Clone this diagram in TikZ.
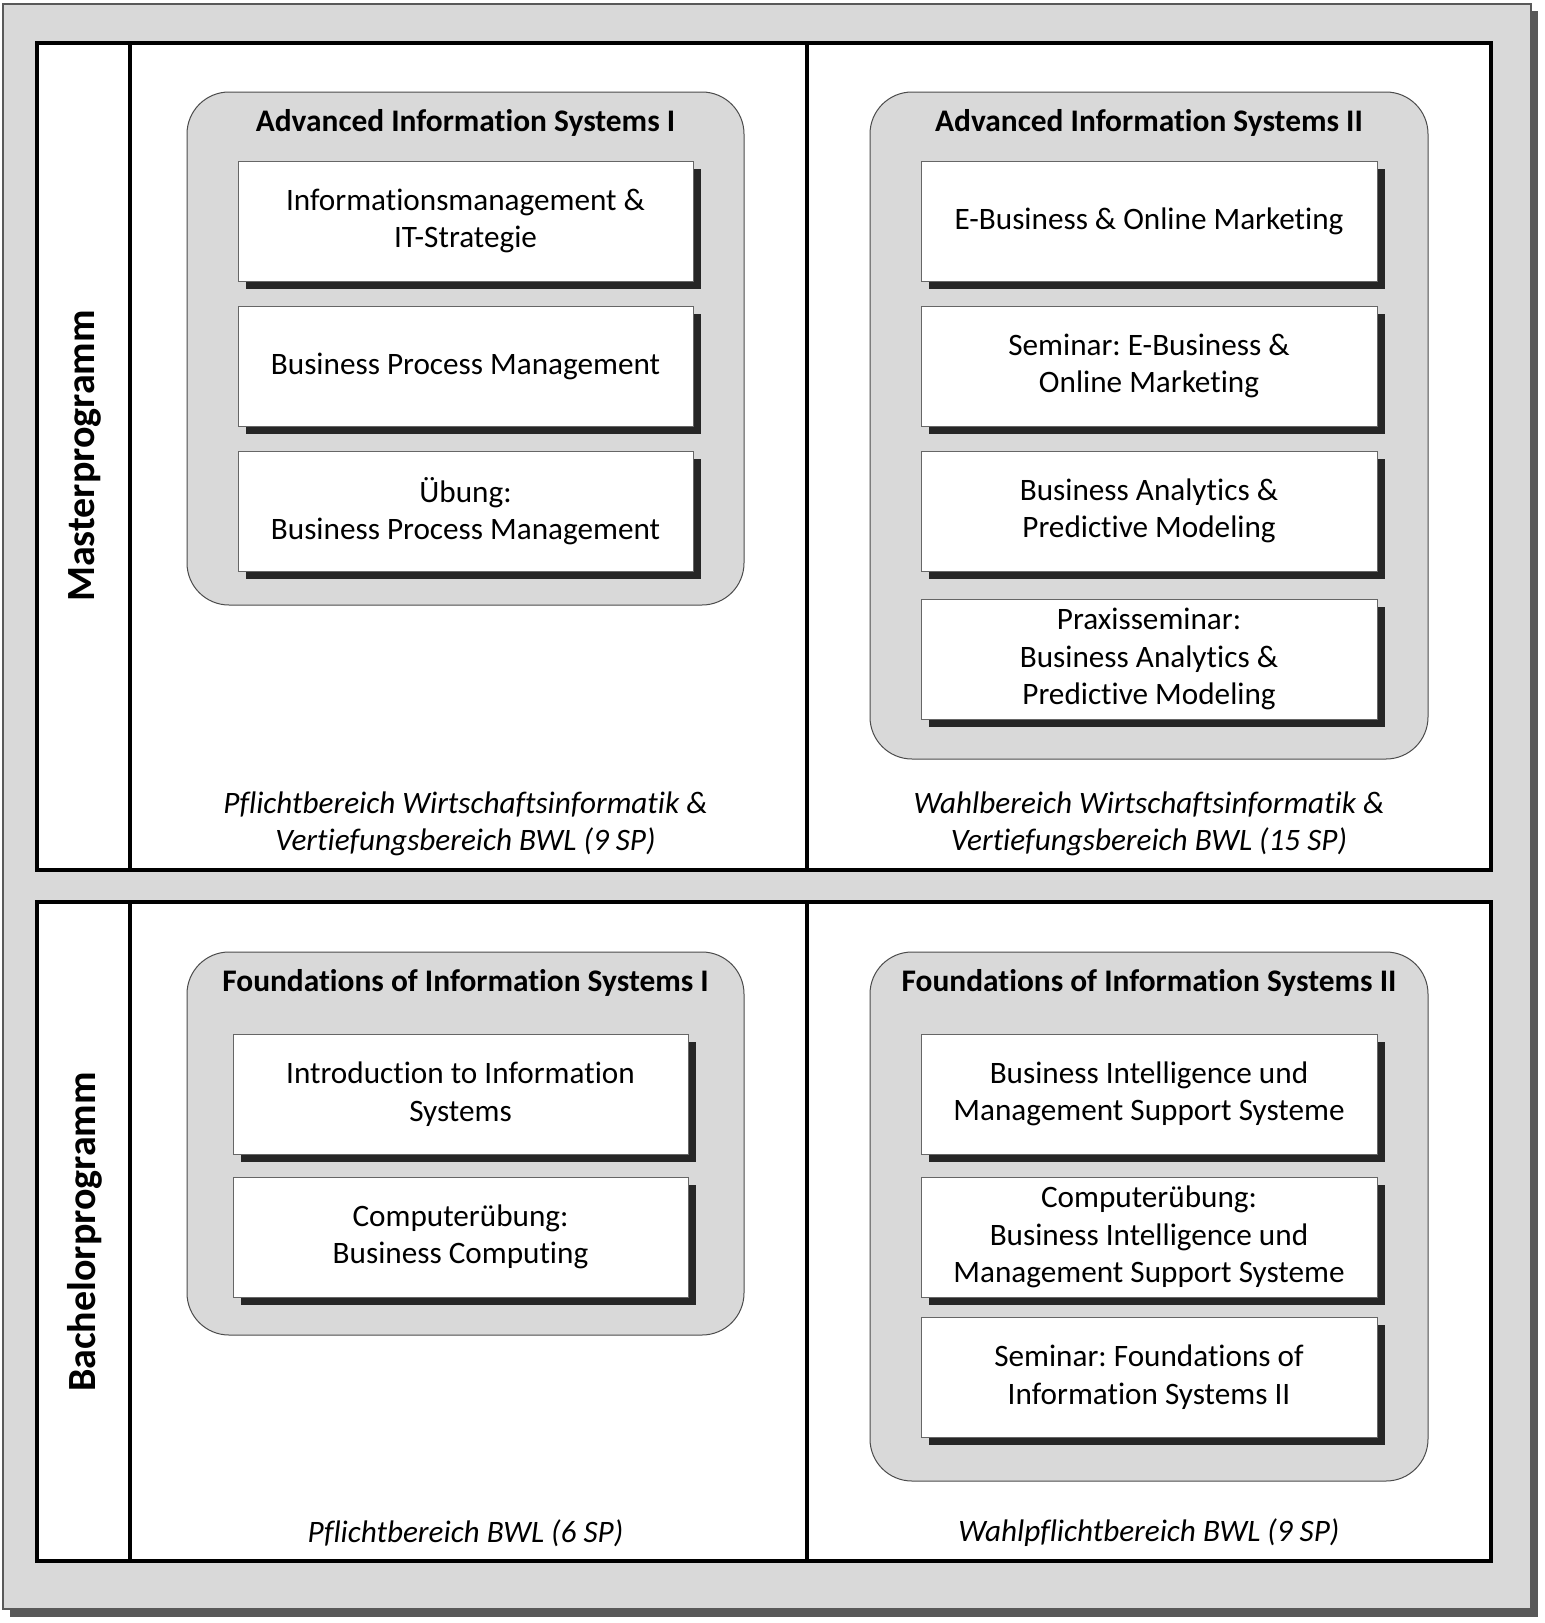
\documentclass[tikz,border=0pt]{standalone}
\usepackage{fontspec}
\setmainfont{Carlito}[Ligatures=NoCommon]
\frenchspacing
\usetikzlibrary{shadows}
\definecolor{panel}{HTML}{D9D9D9}
\definecolor{outshadow}{HTML}{595959}
\definecolor{boxshadow}{HTML}{262626}
\begin{document}
\begin{tikzpicture}[x=0.5pt,y=-0.5pt,
  outerbg/.style={fill=panel,draw=gray!70!black,line width=0.6pt},
  frame/.style={draw=black,line width=2pt,fill=white},
  divider/.style={draw=black,line width=2pt},
  group/.style={draw=black!70,fill=panel,line width=0.5pt,rounded corners=21pt},
  inbox/.style={draw=black!60,fill=white,line width=0.5pt,align=center,
     minimum width=227.5pt,minimum height=60pt,inner sep=0pt,
     font=\fontsize{15.6}{18.7}\selectfont,
     drop shadow={shadow xshift=4pt,shadow yshift=-4pt,fill=boxshadow,opacity=1}},
  gtitle/.style={font=\fontsize{15.7}{18.7}\selectfont\bfseries,inner sep=0pt},
  area/.style={font=\fontsize{15.6}{18.7}\selectfont\itshape,align=center,inner sep=0pt},
  side/.style={font=\fontsize{20}{24}\selectfont\bfseries,rotate=90,inner sep=0pt}]
\useasboundingbox (0,0) rectangle (1544,1623);
% outer background with shadow
\fill[outshadow] (10,11) rectangle (1538,1617);
\path[outerbg] (3,4) rectangle (1531,1609);
% master frame
\path[frame] (37,43) rectangle (1491,870);
\draw[divider] (130,43) -- (130,870);
\draw[divider] (807,43) -- (807,870);
% bachelor frame
\path[frame] (37,902) rectangle (1491,1561);
\draw[divider] (130,902) -- (130,1561);
\draw[divider] (807,902) -- (807,1561);
% side labels
\node[side] (master) at (85,456) {Masterprogramm};
\node[side] (bachelor) at (85,1232) {Bachelorprogramm};
% groups
\path[group] (187,92) rectangle (744,605);
\path[group] (870,92) rectangle (1428,759);
\path[group] (187,952) rectangle (744,1335);
\path[group] (870,952) rectangle (1428,1481);
% titles
\node[gtitle] (t1) at (465.5,123) {Advanced Information Systems I};
\node[gtitle] (t2) at (1149,123) {Advanced Information Systems II};
\node[gtitle] (t3) at (465.5,983) {Foundations of Information Systems I};
\node[gtitle] (t4) at (1149,983) {Foundations of Information Systems II};
% AIS I
\node[inbox] (a1) at (465.5,221) {Informationsmanagement \&\\IT-Strategie};
\node[inbox] (a2) at (465.5,366) {Business Process Management};
\node[inbox] (a3) at (465.5,511) {Übung:\\Business Process Management};
% AIS II
\node[inbox,minimum width=228pt] (b1) at (1149,221) {E-Business \& Online Marketing};
\node[inbox,minimum width=228pt] (b2) at (1149,366) {Seminar: E-Business \&\\Online Marketing};
\node[inbox,minimum width=228pt] (b3) at (1149,511) {Business Analytics \&\\Predictive Modeling};
\node[inbox,minimum width=228pt] (b4) at (1149,659) {Praxisseminar:\\Business Analytics \&\\Predictive Modeling};
% FIS I
\node[inbox] (c1) at (460.5,1094) {Introduction to Information\\Systems};
\node[inbox] (c2) at (460.5,1237) {Computerübung:\\Business Computing};
% FIS II
\node[inbox,minimum width=228pt] (d1) at (1149,1094) {Business Intelligence und\\Management Support Systeme};
\node[inbox,minimum width=228pt] (d2) at (1149,1237) {Computerübung:\\Business Intelligence und\\Management Support Systeme};
\node[inbox,minimum width=228pt] (d3) at (1149,1377) {Seminar: Foundations of\\Information Systems II};
% area labels
\node[area] (l1) at (465.5,824) {Pflichtbereich Wirtschaftsinformatik \&\\Vertiefungsbereich BWL (9 SP)};
\node[area] (l2) at (1149,824) {Wahlbereich Wirtschaftsinformatik \&\\Vertiefungsbereich BWL (15 SP)};
\node[area] (l3) at (465.5,1533) {Pflichtbereich BWL (6 SP)};
\node[area] (l4) at (1149,1533) {Wahlpflichtbereich BWL (9 SP)};
\end{tikzpicture}
\end{document}
